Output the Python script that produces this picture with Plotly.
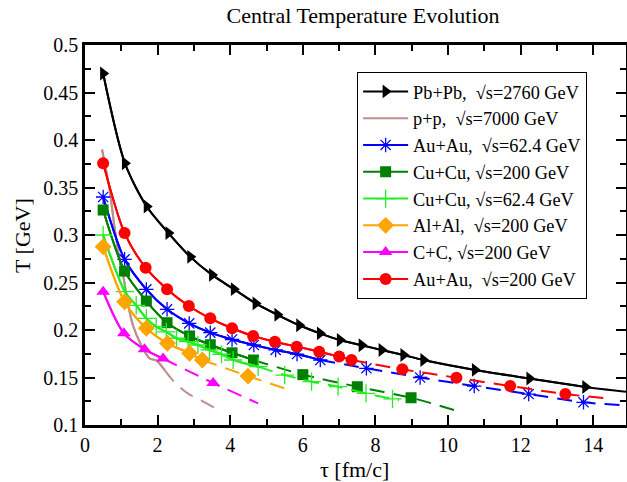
import plotly.graph_objects as go

# ---------------- data ----------------
# Pb+Pb, sqrt(s)=2760 GeV  (black, right triangles)
PBPB_TAU = [0.5, 1.1, 1.7, 2.3, 2.9, 3.5, 4.1, 4.7, 5.3, 5.9, 6.47, 7.02, 7.62, 8.17, 8.77, 9.32, 10.74, 12.24, 13.78]
PBPB_T = [0.470, 0.3755, 0.330, 0.302, 0.277, 0.258, 0.243, 0.228, 0.216, 0.205, 0.1965, 0.1895, 0.184, 0.1789, 0.1737, 0.1684, 0.158, 0.149, 0.140]
PBPB_END = (15.0, 0.1345)

# p+p, sqrt(s)=7000 GeV  (rosy brown, line only)
PP_TAU = [0.47, 0.68, 0.81, 0.92, 1.04, 1.18, 1.32, 1.55, 1.78, 1.96, 2.19, 2.42, 2.84, 3.2, 3.66]
PP_T = [0.390, 0.347, 0.309, 0.282, 0.260, 0.228, 0.205, 0.184, 0.170, 0.168, 0.158, 0.147, 0.133, 0.126, 0.116]

# Au+Au, sqrt(s)=62.4 GeV  (blue, asterisks)
AUAU62_TAU = [0.5, 1.09, 1.69, 2.26, 2.87, 3.45, 4.05, 4.65, 5.25, 5.84, 6.48, 7.75, 9.23, 10.72, 12.22, 13.73]
AUAU62_T = [0.340, 0.2744, 0.2428, 0.2218, 0.207, 0.1972, 0.190, 0.1842, 0.179, 0.1747, 0.1684, 0.1597, 0.150, 0.141, 0.1326, 0.1239]
AUAU62_END = (14.95, 0.1205)

# Cu+Cu, sqrt(s)=200 GeV  (dark green, squares)
CUCU200_TAU = [0.5, 1.09, 1.69, 2.26, 2.88, 3.45, 4.05, 4.64, 6.0, 7.5, 8.98]
CUCU200_T = [0.3263, 0.262, 0.2305, 0.2077, 0.1937, 0.1845, 0.176, 0.1684, 0.153, 0.1403, 0.1287]
CUCU200_END = (10.24, 0.115)

# Cu+Cu, sqrt(s)=62.4 GeV  (light green, thin crosses)
CUCU62_TAU = [0.5, 1.1, 1.41, 1.69, 1.96, 2.24, 2.52, 2.84, 3.11, 3.43, 3.76, 4.08, 4.77, 5.5, 6.24, 6.97, 7.74, 8.47]
CUCU62_T = [0.300, 0.2403, 0.226, 0.2123, 0.2035, 0.198, 0.1913, 0.1877, 0.1842, 0.179, 0.1745, 0.1684, 0.1614, 0.1526, 0.1456, 0.1403, 0.1333, 0.1274]
CUCU62_END = (8.65, 0.1262)

# Al+Al, sqrt(s)=200 GeV  (orange, diamonds)
ALAL_TAU = [0.5, 1.09, 1.69, 2.27, 2.88, 3.23, 4.49]
ALAL_T = [0.2877, 0.2298, 0.2018, 0.186, 0.1755, 0.1684, 0.1515]
ALAL_END = (5.64, 0.1368)

# C+C, sqrt(s)=200 GeV  (magenta, up triangles)
CC_TAU = [0.5, 1.07, 1.64, 2.15, 3.53]
CC_T = [0.2403, 0.1965, 0.1797, 0.170, 0.1442]
CC_END = (4.77, 0.1228)

# Au+Au, sqrt(s)=200 GeV  (red, circles)
AUAU200_TAU = [0.5, 1.09, 1.67, 2.26, 2.86, 3.45, 4.05, 4.63, 5.23, 5.83, 6.45, 7.0, 7.34, 8.74, 10.23, 11.71, 13.23]
AUAU200_T = [0.3755, 0.302, 0.2656, 0.243, 0.2253, 0.2123, 0.2018, 0.1937, 0.1877, 0.1825, 0.1772, 0.172, 0.1684, 0.1586, 0.1498, 0.141, 0.1326]
AUAU200_END = (14.5, 0.1275)

X_TICKS = [0, 2, 4, 6, 8, 10, 12, 14]
Y_TICKS = [0.1, 0.15, 0.2, 0.25, 0.3, 0.35, 0.4, 0.45, 0.5]

SERIES = [
    # name, tau, T, end point, index where solid turns dashed, colour, symbol, size
    ("Pb+Pb,\u00a0\u00a0\u221as=2760 GeV", PBPB_TAU, PBPB_T, PBPB_END, None, "#000000", "triangle-right", 12),
    ("p+p,\u00a0\u00a0\u221as=7000 GeV", PP_TAU, PP_T, None, 10, "#bc8f8f", None, 0),
    ("Au+Au,\u00a0\u00a0\u221as=62.4 GeV", AUAU62_TAU, AUAU62_T, AUAU62_END, 10, "#0000ff", "asterisk-open", 12),
    ("Cu+Cu, \u221as=200 GeV", CUCU200_TAU, CUCU200_T, CUCU200_END, 7, "#008000", "square", 11),
    ("Cu+Cu, \u221as=62.4 GeV", CUCU62_TAU, CUCU62_T, CUCU62_END, 12, "#22ee22", "cross-thin-open", 13),
    ("Al+Al,\u00a0\u00a0\u221as=200 GeV", ALAL_TAU, ALAL_T, ALAL_END, 5, "#ffa500", "diamond", 13),
    ("C+C, \u221as=200 GeV", CC_TAU, CC_T, CC_END, 3, "#ff00ff", "triangle-up", 12),
    ("Au+Au,\u00a0\u00a0\u221as=200 GeV", AUAU200_TAU, AUAU200_T, AUAU200_END, 12, "#ff0000", "circle", 12),
]

FONT = "Liberation Serif, Times New Roman, serif"
DASH = "15px,9px"

fig = go.Figure()
for name, tau, T, end, split, color, symbol, size in SERIES:
    n = len(tau)
    if split is None:
        split = n - 1
    has_marker = symbol is not None
    mk = dict(symbol=symbol, size=size, color=color,
              line=dict(color=color, width=1.3 if "open" in (symbol or "") else 0)) if has_marker else None

    # solid part (continues to the end point when the whole curve is solid)
    fig.add_trace(go.Scatter(
        x=tau[:split + 1] + ([end[0]] if (split == n - 1 and end) else []),
        y=T[:split + 1] + ([end[1]] if (split == n - 1 and end) else []),
        mode="lines", line=dict(color=color, width=2, shape="spline", smoothing=0.8),
        name=name, legendgroup=name, showlegend=False, hoverinfo="skip"))
    # legend entry (line + marker) drawn with the marked points of the solid part
    fig.add_trace(go.Scatter(
        x=tau[:split + 1], y=T[:split + 1],
        mode="lines+markers" if has_marker else "lines",
        line=dict(color=color, width=2, shape="spline", smoothing=0.8),
        marker=mk, name=name, legendgroup=name, showlegend=True))
    # dashed part
    if split < n - 1:
        xs = tau[split:] + ([end[0]] if end else [])
        ys = T[split:] + ([end[1]] if end else [])
        fig.add_trace(go.Scatter(
            x=xs, y=ys, mode="lines",
            line=dict(color=color, width=2, dash=DASH, shape="spline", smoothing=0.8),
            legendgroup=name, showlegend=False, hoverinfo="skip"))
        if has_marker:
            fig.add_trace(go.Scatter(
                x=tau[split + 1:], y=T[split + 1:], mode="markers", marker=mk,
                legendgroup=name, showlegend=False))

axis_common = dict(
    showline=True, linecolor="black", linewidth=2.5, mirror="allticks",
    ticks="inside", ticklen=10, tickwidth=2, tickcolor="black",
    showgrid=False, zeroline=False, automargin=False,
    tickfont=dict(family=FONT, size=20, color="black"),
)

fig.update_layout(
    width=627, height=482,
    margin=dict(l=85, r=1, t=45, b=57),
    paper_bgcolor="white", plot_bgcolor="white",
    font=dict(family=FONT, color="black"),
    title=dict(text="Central Temperature Evolution", x=0.579, xanchor="center",
               y=0.969, yanchor="middle", font=dict(family=FONT, size=22, color="black")),
    xaxis=dict(range=[0, 14.9], tickmode="array", tickvals=X_TICKS,
               ticktext=[str(v) for v in X_TICKS],
               minor=dict(ticks="inside", ticklen=6, tickwidth=2, dtick=1, tickcolor="black"),
               **axis_common),
    yaxis=dict(range=[0.1, 0.5], tickmode="array", tickvals=Y_TICKS,
               ticktext=[f"{v:g}" for v in Y_TICKS],
               minor=dict(ticks="inside", ticklen=6, tickwidth=2, dtick=0.025, tickcolor="black"),
               **axis_common),
    legend=dict(x=0.503, y=0.929, xanchor="left", yanchor="top",
                bgcolor="white", bordercolor="black", borderwidth=1,
                font=dict(family=FONT, size=18.3, color="black"),
                itemwidth=45, traceorder="normal"),
    showlegend=True,
    annotations=[
        dict(text="\u03c4 [fm/c]", xref="paper", yref="paper", x=0.499, y=-0.118,
             xanchor="center", yanchor="middle", showarrow=False,
             font=dict(family=FONT, size=22, color="black")),
        dict(text="T [GeV]", xref="paper", yref="paper", x=-0.1165, y=0.5,
             xanchor="center", yanchor="middle", showarrow=False, textangle=-90,
             font=dict(family=FONT, size=22, color="black")),
    ],
)

fig.write_html("out.html", config={"displayModeBar": False},
               post_script="document.body.style.margin='0px';")
